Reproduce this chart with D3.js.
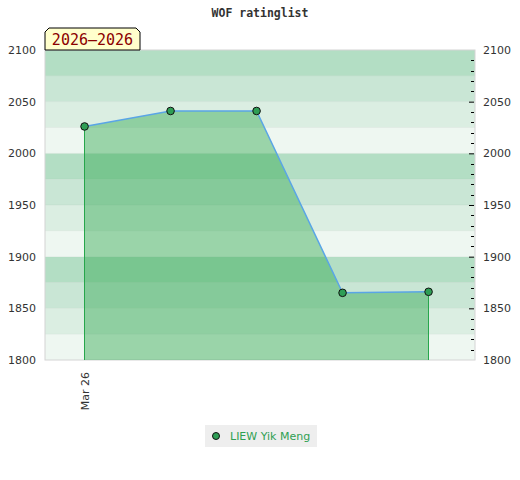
<!DOCTYPE html>
<html>
<head>
<meta charset="utf-8">
<script src="https://cdn.jsdelivr.net/npm/d3@7"></script>
<style>
  body { margin: 0; background: #fff; }
  svg { display: block; }
</style>
</head>
<body>
<div id="chart"></div>
<script>

// chart data
var games = [1, 2, 3, 4, 5];
var ratings = [2026, 2041, 2041, 1865, 1866];
var tickGames = [1];
var tickLabels = ["Mar 26"];
var yTicks = [1800, 1850, 1900, 1950, 2000, 2050, 2100];
var playerName = "LIEW Yik Meng";
var periodLabel = "2026\u20132026";

var w = 520, h = 480;
var margin = {top: 50, right: 45, bottom: 120, left: 45};
var width = w - margin.left - margin.right,
    height = h - margin.top - margin.bottom;

var svg = d3.select("#chart").append("svg")
    .attr("width", w)
    .attr("height", h);

// title
svg.append("text")
    .attr("x", 260).attr("y", 17)
    .attr("text-anchor", "middle")
    .style("font-family", "'DejaVu Sans Mono', monospace")
    .style("font-weight", "bold")
    .style("font-size", "11.5px")
    .style("fill", "#333")
    .text("WOF ratinglist");

var g = svg.append("g")
    .attr("transform", "translate(" + margin.left + "," + margin.top + ")");

// scales
var x = d3.scaleLinear().domain([0.54, 5.54]).range([0, width]);
var y = d3.scaleLinear().domain([1800, 2100]).range([height, 0]);

// background bands every 25 points
var bandColors = ["#eef7f1", "#dbeee2", "#c9e6d5", "#b3dec4"];
var bands = d3.range(1800, 2100, 25);
g.selectAll("rect.band")
    .data(bands)
    .enter().append("rect")
    .attr("class", "band")
    .attr("x", 0)
    .attr("y", function(d) { return y(d + 25); })
    .attr("width", width)
    .attr("height", function(d) { return y(d) - y(d + 25); })
    .attr("fill", function(d, i) { return bandColors[i % 4]; });

g.selectAll("line.grid")
    .data(bands.slice(1))
    .enter().append("line")
    .attr("x1", 0).attr("x2", width)
    .attr("y1", function(d) { return y(d); })
    .attr("y2", function(d) { return y(d); })
    .attr("stroke", "#000")
    .attr("stroke-opacity", 0.03);

// border
g.append("rect")
    .attr("width", width).attr("height", height)
    .attr("fill", "none")
    .attr("stroke", "#d4d4d4");

var pts = games.map(function(d, i) { return {game: d, rating: ratings[i]}; });

// area under line
var area = d3.area()
    .x(function(d) { return x(d.game); })
    .y0(height)
    .y1(function(d) { return y(d.rating); });

g.append("path")
    .datum(pts)
    .attr("d", area)
    .attr("fill", "#34a853")
    .attr("fill-opacity", 0.45);

// side edges of the area
[pts[0], pts[pts.length - 1]].forEach(function(d) {
    var px = Math.floor(x(d.game)) + 0.5;
    g.append("line")
        .attr("x1", px).attr("x2", px)
        .attr("y1", y(d.rating)).attr("y2", height)
        .attr("stroke", "#27a64c")
        .attr("stroke-width", 1);
});

var line = d3.line()
    .x(function(d) { return x(d.game); })
    .y(function(d) { return y(d.rating); });

g.append("path")
    .datum(pts)
    .attr("d", line)
    .attr("fill", "none")
    .attr("stroke", "#5aa5e6")
    .attr("stroke-width", 1.5);

g.selectAll("circle.pt")
    .data(pts)
    .enter().append("circle")
    .attr("class", "pt")
    .attr("cx", function(d) { return x(d.game); })
    .attr("cy", function(d) { return y(d.rating); })
    .attr("r", 3.8)
    .attr("fill", "#2e9e55")
    .attr("stroke", "#111")
    .attr("stroke-width", 1);

// left axis (labels only)
var yAxisL = d3.axisLeft(y).tickValues(yTicks).tickSize(0).tickPadding(9).tickFormat(d3.format("d"));
var gl = g.append("g").call(yAxisL);
gl.select(".domain").remove();

// right axis: minor ticks every 10, major labels every 50
var minor = d3.range(1810, 2100, 10).filter(function(d) { return d % 50 !== 0; });
g.selectAll("line.minor")
    .data(minor)
    .enter().append("line")
    .attr("x1", width - 4).attr("x2", width - 1)
    .attr("y1", function(d) { return Math.round(y(d)) + 0.5; })
    .attr("y2", function(d) { return Math.round(y(d)) + 0.5; })
    .attr("stroke", "#000");

var yAxisR = d3.axisRight(y).tickValues(yTicks).tickSize(0).tickPadding(8).tickFormat(d3.format("d"));
var gr = g.append("g").attr("transform", "translate(" + width + ",0)").call(yAxisR);
gr.select(".domain").remove();
gr.selectAll(".tick").filter(function(d) { return d > 1800 && d < 2100; })
    .append("line")
    .attr("x1", -6).attr("x2", -1)
    .attr("stroke", "#000");

[gl, gr].forEach(function(a) {
    a.selectAll("text")
        .style("font-family", "'DejaVu Sans', sans-serif")
        .style("font-size", "11px")
        .style("fill", "#333");
});

// x axis labels
var xAxis = d3.axisBottom(x).tickValues(tickGames).tickSize(0)
    .tickFormat(function(d, i) { return tickLabels[i]; });
var gx = g.append("g").attr("transform", "translate(0," + height + ")").call(xAxis);
gx.select(".domain").remove();
gx.selectAll("text")
    .attr("transform", "rotate(-90)")
    .attr("x", -12).attr("y", 0).attr("dy", "0.35em")
    .style("text-anchor", "end")
    .style("font-family", "'DejaVu Sans', sans-serif")
    .style("font-size", "11px")
    .style("fill", "#333");

// period badge
var bx = 45, by = 28, bw = 95, bh = 22, c = 4;
svg.append("path")
    .attr("d", "M" + bx + "," + (by + bh) + "V" + (by + c) + "L" + (bx + c) + "," + by +
         "H" + (bx + bw - c) + "L" + (bx + bw) + "," + (by + c) + "V" + (by + bh) + "Z")
    .attr("fill", "#ffffcc")
    .attr("stroke", "#000")
    .attr("stroke-width", 1);
svg.append("text")
    .attr("x", bx + bw / 2).attr("y", by + 17)
    .attr("text-anchor", "middle")
    .style("font-family", "'DejaVu Sans Mono', monospace")
    .style("font-size", "15px")
    .style("fill", "#8b0000")
    .text(periodLabel);

// legend
var lg = svg.append("g").attr("transform", "translate(205,425)");
lg.append("rect").attr("width", 112).attr("height", 22).attr("fill", "#eeeeee");
lg.append("circle").attr("cx", 11).attr("cy", 11).attr("r", 3.5)
    .attr("fill", "#2e9e55").attr("stroke", "#111");
lg.append("text").attr("x", 25).attr("y", 15)
    .style("font-family", "'DejaVu Sans', sans-serif")
    .style("font-size", "11px")
    .style("fill", "#2ea052")
    .text(playerName);

</script>
</body>
</html>
